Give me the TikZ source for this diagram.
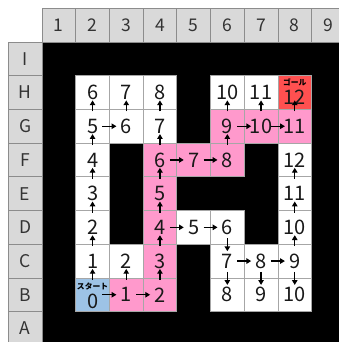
\documentclass[tikz,border=0pt]{standalone}
\usepackage{fontspec}
\setmainfont{Noto Sans CJK JP}
\usetikzlibrary{arrows.meta}
\definecolor{pinkc}{HTML}{FF99CC}
\definecolor{startc}{HTML}{9DC3E6}
\definecolor{goalc}{HTML}{FF5050}
\definecolor{hdr}{HTML}{D9D9D9}
\definecolor{gridc}{HTML}{A6A6A6}
\begin{document}
\begin{tikzpicture}[x=1pt,y=-1pt,
  cell/.style={rectangle, draw=gridc, line width=0.7pt, minimum size=33.7pt, inner sep=0pt, outer sep=0pt},
  hcell/.style={cell, fill=hdr, draw=black!45, text=black!80, font=\fontsize{17.5}{19}\selectfont},
  num/.style={inner sep=0pt, text=black!90, font=\fontsize{20}{21}\selectfont},
  tag/.style={inner sep=0pt, font=\bfseries\fontsize{7.8}{8}\selectfont},
  arr/.style={line width=1.4pt, -{Triangle[length=4.8pt,width=5.4pt]}}
]
\useasboundingbox (0,0) rectangle (339,342);
\clip (0,0) rectangle (339,342);
\fill[white] (0,0) rectangle (339,342);
\fill[black] (41.7,41.7) rectangle (350,350);
% headers
\foreach \j in {1,...,9}
  \node[hcell] (h\j) at ({25.15+33.7*\j},25.15) {\j};
\foreach \l [count=\r] in {I,H,G,F,E,D,C,B,A}
  \node[hcell] (r\l) at (25.15,{25.15+33.7*\r}) {\l};
% maze cells
\foreach \n/\cc/\rr/\f/\v in {
  H2/2/2/white/6, H3/3/2/white/7, H4/4/2/white/8, H6/6/2/white/10, H7/7/2/white/11,
  G2/2/3/white/5, G3/3/3/white/6, G4/4/3/white/7, G6/6/3/pinkc/9, G7/7/3/pinkc/10, G8/8/3/pinkc/11,
  F2/2/4/white/4, F4/4/4/pinkc/6, F5/5/4/pinkc/7, F6/6/4/pinkc/8, F8/8/4/white/12,
  E2/2/5/white/3, E4/4/5/pinkc/5, E8/8/5/white/11,
  D2/2/6/white/2, D4/4/6/pinkc/4, D5/5/6/white/5, D6/6/6/white/6, D8/8/6/white/10,
  C2/2/7/white/1, C3/3/7/white/2, C4/4/7/pinkc/3, C6/6/7/white/7, C7/7/7/white/8, C8/8/7/white/9,
  B3/3/8/pinkc/1, B4/4/8/pinkc/2, B6/6/8/white/8, B7/7/8/white/9, B8/8/8/white/10}
{
  \node[cell, fill=\f] (\n) at ({25.15+33.7*\cc},{25.15+33.7*\rr}) {};
  \node[num] (n\n) at (\n) {\v};
}
\node[cell, fill=startc] (B2) at ({25.15+33.7*2},{25.15+33.7*8}) {};
\node[num, yshift=-7pt] (nB2) at (B2) {0};
\node[tag] (tstart) at ([yshift=-8.4pt]B2.north) {スタート};
\node[cell, fill=goalc] (H8) at ({25.15+33.7*8},{25.15+33.7*2}) {};
\node[num, yshift=-5pt] (nH8) at (H8) {12};
\node[tag] (tgoal) at ([yshift=-6.4pt]H8.north) {ゴール};
% arrows
\foreach \a in {B2,B3,G2,D4,D5,F4,F5,G6,G7,C6,C7}
  \draw[arr] ([xshift=-7pt]\a.east) -- ([xshift=7pt]\a.east);
\foreach \a in {B2,B3,B4,C2,D2,E2,F2,G2,G3,C4,D4,E4,F4,G4,F6,G6,G7,G8,C8,D8,E8}
  \draw[arr] ([yshift=-2pt]\a.north) -- ([yshift=9pt]\a.north);
\foreach \a in {D6,C6,C7,C8}
  \draw[arr] ([yshift=6pt]\a.south) -- ([yshift=-7pt]\a.south);
\end{tikzpicture}
\end{document}
